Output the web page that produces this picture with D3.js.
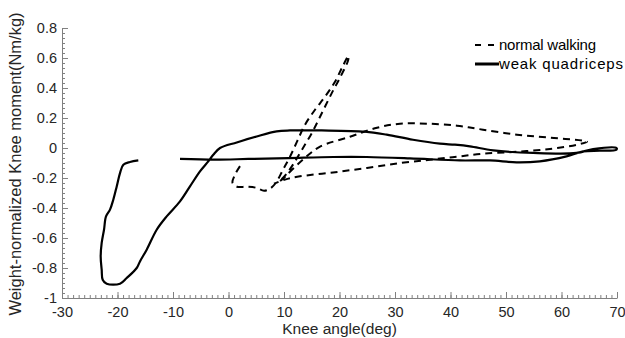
<!DOCTYPE html>
<html>
<head>
<meta charset="utf-8">
<script src="https://cdn.jsdelivr.net/npm/d3@7"></script>
<style>
  body { margin: 0; background: #fff; }
  svg { display: block; font-family: Arial, "Liberation Sans", sans-serif; }
</style>
</head>
<body>
<div id="chart"></div>
<script>
'use strict'

// Data (knee angle in deg, moment in Nm/kg)
const normalWalking = [
  [2.07, -0.121], [1.17, -0.178], [0.72, -0.231], [1.53, -0.258], [3.33, -0.258],
  [4.95, -0.265], [6.4, -0.285], [7.48, -0.271], [8.56, -0.231], [9.82, -0.145],
  [11.08, -0.058], [12.34, 0.042], [13.78, 0.155], [15.59, 0.255], [17.39, 0.342],
  [19.19, 0.442], [20.63, 0.549], [21.62, 0.615], [21.53, 0.582], [20.09, 0.469],
  [18.65, 0.369], [16.85, 0.235], [15.05, 0.102], [13.24, -0.011], [11.62, -0.111],
  [10.18, -0.185], [9.1, -0.225], [10.0, -0.198], [11.44, -0.145], [13.78, -0.065],
  [16.49, 0.009], [21.89, 0.075], [26.76, 0.135], [30.9, 0.162], [35.77, 0.162],
  [41.17, 0.149], [45.86, 0.122], [51.98, 0.089], [57.93, 0.069], [64.59, 0.042],
  [62.79, 0.022], [57.93, -0.007], [51.98, -0.025], [45.86, -0.038], [41.17, -0.058],
  [36.31, -0.078], [30.9, -0.1], [24.95, -0.133], [18.83, -0.163], [12.88, -0.189],
  [10.18, -0.211], [8.2, -0.238]
]

const weakQuadriceps = [
  [-16.25, -0.083], [-17.75, -0.093], [-18.95, -0.111], [-19.55, -0.167], [-20.14, -0.256],
  [-20.76, -0.345], [-21.35, -0.411], [-22.07, -0.456], [-22.43, -0.545], [-22.85, -0.633],
  [-23.03, -0.723], [-22.85, -0.811], [-22.67, -0.878], [-21.95, -0.905], [-19.55, -0.905],
  [-18.34, -0.867], [-16.54, -0.8], [-15.95, -0.756], [-14.74, -0.678], [-12.94, -0.545],
  [-11.14, -0.456], [-8.74, -0.356], [-6.94, -0.256], [-5.14, -0.156], [-3.64, -0.089],
  [-2.74, -0.045], [-1.53, 0], [1.48, 0.037], [5.08, 0.077], [8.68, 0.111],
  [11.08, 0.117], [16.79, 0.117], [24.59, 0.109], [28.5, 0.089], [33.24, 0.055],
  [38.1, 0.029], [40.8, 0.022], [43.5, 0.011], [47.7, -0.016], [54.9, -0.033],
  [62.7, -0.033], [65.7, -0.007], [69.9, 0], [69.9, -0.011], [66.9, -0.018],
  [63.9, -0.023], [60.9, -0.056], [56.1, -0.089], [51.9, -0.096], [47.1, -0.083],
  [41.7, -0.083], [32.7, -0.069], [24.9, -0.06], [18.9, -0.06], [10.8, -0.067],
  [3.6, -0.073], [-2.4, -0.078], [-8.74, -0.073]
]

const xTicks = [-30, -20, -10, 0, 10, 20, 30, 40, 50, 60, 70]
const yTicks = [-1, -0.8, -0.6, -0.4, -0.2, 0, 0.2, 0.4, 0.6, 0.8]
const seriesNames = ['normal walking', 'weak quadriceps']

// Dimensions
const dimensions = {
  width: 625,
  height: 338,
  margin: { top: 28, right: 8, bottom: 40, left: 62 },
}
dimensions.containerWidth =
  dimensions.width - dimensions.margin.left - dimensions.margin.right
dimensions.containerHeight =
  dimensions.height - dimensions.margin.top - dimensions.margin.bottom

const svg = d3
  .select('#chart')
  .append('svg')
  .attr('width', dimensions.width)
  .attr('height', dimensions.height)

const container = svg
  .append('g')
  .attr('transform', `translate(${dimensions.margin.left}, ${dimensions.margin.top})`)

// Scales
const xScale = d3.scaleLinear().domain([-30, 70]).range([0, 555])
const yScale = d3.scaleLinear().domain([-1, 0.8]).range([270, 0])

const axisColor = '#808080'
const labelColor = '#262626'
const numFormat = (d) => d3.format('.1~f')(d).replace('\u2212', '-')

// Minor ticks
const xMinor = d3.range(-30, 70.001, 1)
const yMinor = d3.range(0, 54.001, 1).map((i) => -1 + i * (0.2 / 6))

container
  .append('g')
  .attr('transform', `translate(0, ${yScale(-1)})`)
  .call(d3.axisBottom(xScale).tickValues(xMinor).tickSize(-3).tickFormat(''))
  .call((g) => g.select('.domain').remove())
  .call((g) => g.selectAll('line').attr('stroke', axisColor))

container
  .append('g')
  .call(d3.axisLeft(yScale).tickValues(yMinor).tickSize(-3).tickFormat(''))
  .call((g) => g.select('.domain').remove())
  .call((g) => g.selectAll('line').attr('stroke', axisColor))

// X axis
const xAxisGroup = container
  .append('g')
  .attr('transform', `translate(0, ${yScale(-1)})`)
  .call(
    d3.axisBottom(xScale).tickValues(xTicks).tickSizeInner(-6).tickSizeOuter(0)
      .tickPadding(9).tickFormat(numFormat)
  )

xAxisGroup.selectAll('.domain, line').attr('stroke', axisColor)
xAxisGroup.selectAll('text').attr('fill', labelColor).style('font-size', '14.5px')

xAxisGroup
  .append('text')
  .attr('x', xScale(20))
  .attr('y', 36)
  .attr('fill', labelColor)
  .style('font-size', '15.5px')
  .style('text-anchor', 'middle')
  .text('Knee angle(deg)')

// Y axis
const yAxisGroup = container
  .append('g')
  .call(
    d3.axisLeft(yScale).tickValues(yTicks).tickSizeInner(-6).tickSizeOuter(0)
      .tickPadding(5).tickFormat(numFormat)
  )

yAxisGroup.selectAll('.domain, line').attr('stroke', axisColor)
yAxisGroup.selectAll('text').attr('fill', labelColor).style('font-size', '14.5px')

yAxisGroup
  .append('text')
  .attr('transform', `translate(-41, ${164 - dimensions.margin.top}) rotate(-90)`)
  .attr('fill', labelColor)
  .style('font-size', '16.5px')
  .style('text-anchor', 'middle')
  .text('Weight-normalized Knee moment(Nm/kg)')

// Lines
const line = d3
  .line()
  .x((d) => xScale(d[0]))
  .y((d) => yScale(d[1]))
  .curve(d3.curveCatmullRom.alpha(0.5))

container
  .append('path')
  .datum(weakQuadriceps)
  .attr('d', line)
  .attr('fill', 'none')
  .attr('stroke', '#000')
  .attr('stroke-width', 2.2)

container
  .append('path')
  .datum(normalWalking)
  .attr('d', line)
  .attr('fill', 'none')
  .attr('stroke', '#000')
  .attr('stroke-width', 2)
  .attr('stroke-dasharray', '7,5')

// Legend
const legend = svg.append('g').attr('transform', 'translate(475, 45)')
const legendItems = legend
  .selectAll('g')
  .data(seriesNames)
  .join('g')
  .attr('transform', (d, i) => `translate(0, ${i * 19})`)

legendItems
  .append('line')
  .attr('x1', 0)
  .attr('x2', 24)
  .attr('stroke', '#000')
  .attr('stroke-width', (d, i) => (i === 0 ? 2 : 3))
  .attr('stroke-dasharray', (d, i) => (i === 0 ? '6,7' : null))

legendItems
  .append('text')
  .attr('x', 24)
  .attr('y', 5)
  .attr('fill', '#000')
  .style('font-size', '15px')
  .attr('textLength', (d, i) => (i === 0 ? 97 : 124))
  .attr('lengthAdjust', 'spacing')
  .text((d) => d)
</script>
</body>
</html>
